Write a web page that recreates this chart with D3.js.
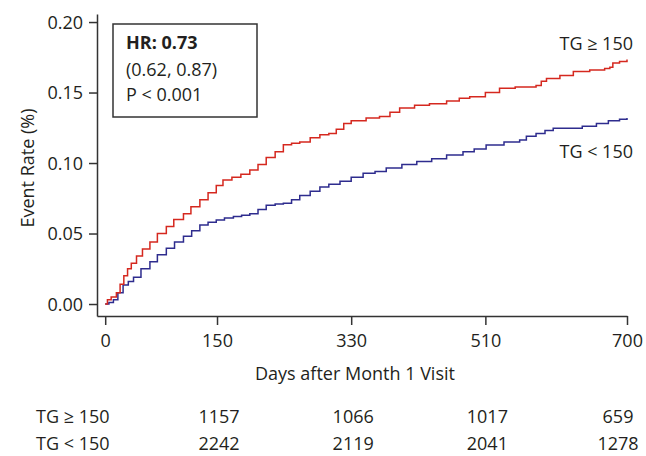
<!DOCTYPE html>
<html>
<head>
<meta charset="utf-8">
<script src="https://cdn.jsdelivr.net/npm/d3@7"></script>
<style>
  body { margin: 0; background: #fff; }
  svg text { font-family: "Open Sans", "Noto Sans", sans-serif; fill: #231f20; }
</style>
</head>
<body>
<div class="chart"></div>
<script>
// Kaplan-Meier style event curves
var highDays = [0, 3, 8, 15, 20, 25, 30, 35, 42, 50, 60, 70, 82, 92, 105, 115, 127, 138, 149, 158,
  170, 182, 194, 205, 216, 228, 239, 250, 261, 275, 288, 300, 310, 320, 330, 350, 368, 382, 395, 415,
  435, 458, 475, 489, 510, 529, 550, 578, 585, 592, 610, 628, 650, 670, 677, 681, 690, 700];
var highRate = [0, 0.003, 0.005, 0.008, 0.014, 0.020, 0.025, 0.029, 0.034, 0.039, 0.044, 0.050, 0.055, 0.060, 0.064, 0.069, 0.074, 0.079, 0.084, 0.088,
  0.090, 0.092, 0.095, 0.099, 0.104, 0.108, 0.113, 0.114, 0.115, 0.118, 0.120, 0.121, 0.124, 0.128, 0.130, 0.132, 0.133, 0.136, 0.139, 0.141,
  0.142, 0.144, 0.146, 0.147, 0.150, 0.153, 0.154, 0.155, 0.158, 0.160, 0.162, 0.165, 0.166, 0.167, 0.168, 0.171, 0.172, 0.1735];

var lowDays = [0, 5, 11, 17, 24, 31, 38, 48, 60, 70, 82, 93, 105, 116, 127, 138, 149, 160, 172, 183,
  194, 205, 216, 228, 239, 250, 261, 275, 288, 300, 315, 330, 346, 362, 377, 398, 418, 438, 458, 480,
  495, 511, 535, 556, 565, 578, 590, 601, 628, 640, 659, 675, 690, 700];
var lowRate = [0, 0.001, 0.003, 0.008, 0.0135, 0.016, 0.019, 0.025, 0.030, 0.035, 0.0395, 0.044, 0.048, 0.052, 0.056, 0.058, 0.0596, 0.061, 0.062, 0.063,
  0.064, 0.067, 0.070, 0.071, 0.0714, 0.074, 0.077, 0.080, 0.083, 0.085, 0.087, 0.090, 0.0927, 0.094, 0.0964, 0.099, 0.101, 0.103, 0.1057, 0.108,
  0.110, 0.1127, 0.115, 0.1163, 0.119, 0.121, 0.123, 0.1247, 0.1247, 0.126, 0.128, 0.130, 0.131, 0.132];

var xTicks = [0, 150, 330, 510, 700];
var yTicks = [0, 0.05, 0.10, 0.15, 0.20];

var seriesNames = ["TG \u2265 150", "TG < 150"];
var riskDays = [150, 330, 510, 700];
var riskHigh = [1157, 1066, 1017, 659];
var riskLow = [2242, 2119, 2041, 1278];

var hrLines = ["(0.62, 0.87)", "P < 0.001"];

var svgWidth = 646;
var svgHeight = 456;

var svg = d3.select(".chart")
  .append("svg")
  .attr("width", svgWidth)
  .attr("height", svgHeight);

// scales - domain a bit wider than data so axes meet in the corner
var x = d3.scaleLinear().domain([-11, 700]).range([97, 627]);
var y = d3.scaleLinear().domain([-0.0085, 0.2057]).range([316, 14]);

// x axis
var xAxis = svg.append("g")
  .attr("transform", "translate(0,316)")
  .call(d3.axisBottom(x).tickValues(xTicks).tickSize(9).tickSizeOuter(0).tickFormat(d3.format("d")));
xAxis.selectAll("text").attr("y", 31).attr("dy", 0).style("font-size", "18px");

// y axis
var yAxis = svg.append("g")
  .attr("transform", "translate(97,0)")
  .call(d3.axisLeft(y).tickValues(yTicks).tickSize(8).tickSizeOuter(0).tickFormat(d3.format(".2f")));
yAxis.selectAll("text").attr("x", -14).attr("dy", "0.35em").style("font-size", "18px");

svg.selectAll(".domain, .tick line")
  .attr("stroke", "#333")
  .attr("stroke-width", 1.5);

// axis titles
svg.append("text")
  .attr("transform", "translate(34,168) rotate(-90)")
  .attr("text-anchor", "middle")
  .style("font-size", "18px")
  .text("Event Rate (%)");

svg.append("text")
  .attr("x", 355)
  .attr("y", 380)
  .attr("text-anchor", "middle")
  .style("font-size", "18px")
  .text("Days after Month 1 Visit");

// curves
var line = d3.line()
  .x(d => x(d[0]))
  .y(d => y(d[1]))
  .curve(d3.curveStepAfter);

var highData = highDays.map((d, i) => [d, highRate[i]]);
var lowData = lowDays.map((d, i) => [d, lowRate[i]]);

svg.append("path")
  .datum(lowData)
  .attr("d", line)
  .attr("fill", "none")
  .attr("stroke", "#2e2c8e")
  .attr("stroke-width", 1.5);

svg.append("path")
  .datum(highData)
  .attr("d", line)
  .attr("fill", "none")
  .attr("stroke", "#d5281f")
  .attr("stroke-width", 1.5);

// series labels
svg.append("text")
  .attr("x", 633).attr("y", 50)
  .attr("text-anchor", "end")
  .style("font-size", "18px")
  .text(seriesNames[0]);

svg.append("text")
  .attr("x", 633).attr("y", 158)
  .attr("text-anchor", "end")
  .style("font-size", "18px")
  .text(seriesNames[1]);

// HR box
svg.append("rect")
  .attr("x", 113).attr("y", 24)
  .attr("width", 144).attr("height", 93)
  .attr("fill", "#fff")
  .attr("stroke", "#333")
  .attr("stroke-width", 1.5);

svg.append("text")
  .attr("x", 126).attr("y", 49)
  .style("font-size", "18px")
  .style("font-weight", "bold")
  .text("HR: 0.73");

svg.selectAll(".hrline")
  .data(hrLines)
  .enter()
  .append("text")
  .attr("class", "hrline")
  .attr("x", 126)
  .attr("y", (d, i) => 76 + i * 25)
  .style("font-size", "18px")
  .text(d => d);

// numbers at risk
var rows = [
  { name: seriesNames[0], vals: riskHigh, y: 423 },
  { name: seriesNames[1], vals: riskLow, y: 450 }
];

rows.forEach(function(r) {
  svg.append("text")
    .attr("x", 36).attr("y", r.y)
    .style("font-size", "18px")
    .text(r.name);

  svg.selectAll(null)
    .data(r.vals)
    .enter()
    .append("text")
    .attr("x", (d, i) => Math.min(x(riskDays[i]) + 2, 618))
    .attr("y", r.y)
    .attr("text-anchor", "middle")
    .style("font-size", "18px")
    .text(d => d);
});
</script>
</body>
</html>
